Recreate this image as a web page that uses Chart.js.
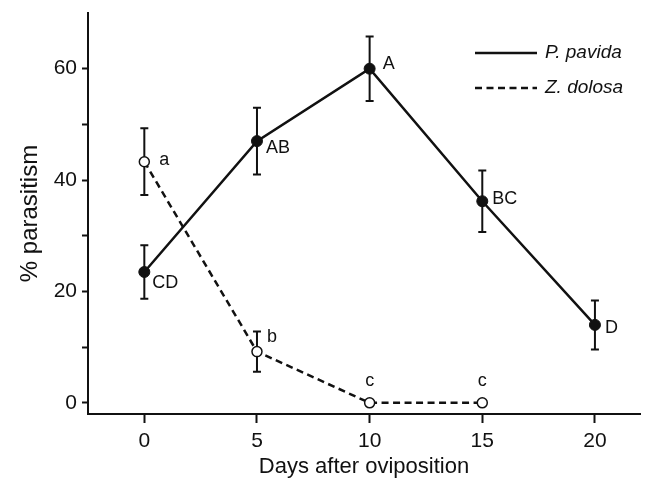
<!DOCTYPE html>
<html>
<head>
<meta charset="utf-8">
<script src="https://cdn.jsdelivr.net/npm/chart.js@4.4.1/dist/chart.umd.min.js"></script>
<style>
  html, body { margin: 0; padding: 0; background: #fff; }
  #wrap { width: 654px; height: 490px; }
</style>
</head>
<body>
<div id="wrap"><canvas id="chart" width="654" height="490"></canvas></div>
<script>
// values
const days = [0, 5, 10, 15, 20];
const pavida = [23.5, 47, 60, 36.2, 14];
const pavidaErr = [4.8, 6, 5.8, 5.5, 4.4];
const pavidaLetters = ['CD', 'AB', 'A', 'BC', 'D'];

const dolosaDays = [0, 5, 10, 15];
const dolosa = [43.3, 9.2, 0, 0];
const dolosaErr = [6, 3.6, 0, 0];
const dolosaLetters = ['a', 'b', 'c', 'c'];

const xTicks = [0, 5, 10, 15, 20];
const yTicks = [0, 10, 20, 30, 40, 50, 60];
const yLabelled = [0, 20, 40, 60];

const FONT = "'Liberation Sans', Arial, Helvetica, sans-serif";

// error bars drawn under the markers
const errorBars = {
  id: 'errorBars',
  beforeDatasetsDraw(chart) {
    const ctx = chart.ctx;
    const xs = chart.scales.x, ys = chart.scales.y;
    ctx.save();
    ctx.strokeStyle = '#111';
    ctx.lineWidth = 2;
    chart.data.datasets.forEach(ds => {
      ds.data.forEach((p, i) => {
        const e = ds.err[i];
        if (!e) return;
        const px = xs.getPixelForValue(p.x);
        const top = ys.getPixelForValue(p.y + e);
        const bot = ys.getPixelForValue(p.y - e);
        ctx.beginPath();
        ctx.moveTo(px, top); ctx.lineTo(px, bot);
        ctx.moveTo(px - 4, top); ctx.lineTo(px + 4, top);
        ctx.moveTo(px - 4, bot); ctx.lineTo(px + 4, bot);
        ctx.stroke();
      });
    });
    ctx.restore();
  }
};

// significance letters next to each point
const letters = {
  id: 'letters',
  afterDatasetsDraw(chart) {
    const ctx = chart.ctx;
    const xs = chart.scales.x, ys = chart.scales.y;
    const offs = [
      [[8, 11, 'left'], [9, 7, 'left'], [13, -5, 'left'], [10, -2, 'left'], [10, 3, 'left']],
      [[15, -2, 'left'], [10, -15, 'left'], [0, -22, 'center'], [0, -22, 'center']]
    ];
    ctx.save();
    ctx.fillStyle = '#111';
    ctx.font = '18px ' + FONT;
    ctx.textBaseline = 'middle';
    chart.data.datasets.forEach((ds, d) => {
      ds.data.forEach((p, i) => {
        const o = offs[d][i];
        ctx.textAlign = o[2];
        ctx.fillText(ds.letters[i], xs.getPixelForValue(p.x) + o[0], ys.getPixelForValue(p.y) + o[1]);
      });
    });
    ctx.restore();
  }
};

// legend inside the plot, top right
const innerLegend = {
  id: 'innerLegend',
  afterDraw(chart) {
    const ctx = chart.ctx;
    const a = chart.chartArea;
    const x0 = a.right - 165, x1 = a.right - 103;
    ctx.save();
    ctx.strokeStyle = '#111';
    ctx.fillStyle = '#111';
    ctx.lineWidth = 2.5;
    ctx.font = 'italic 19px ' + FONT;
    ctx.textBaseline = 'middle';
    chart.data.datasets.forEach((ds, i) => {
      const y = a.top + 40 + i * 35;
      ctx.setLineDash(ds.borderDash || []);
      ctx.beginPath();
      ctx.moveTo(x0, y); ctx.lineTo(x1, y);
      ctx.stroke();
      ctx.setLineDash([]);
      ctx.fillText(ds.label, x1 + 8, y);
    });
    ctx.restore();
  }
};

const toPoints = (xsArr, ysArr) => xsArr.map((x, i) => ({ x: x, y: ysArr[i] }));

new Chart(document.getElementById('chart'), {
  type: 'line',
  data: {
    datasets: [
      {
        label: 'P. pavida',
        data: toPoints(days, pavida),
        err: pavidaErr,
        letters: pavidaLetters,
        borderColor: '#111',
        borderWidth: 2.5,
        pointRadius: 5.5,
        pointBackgroundColor: '#111',
        pointBorderColor: '#111',
        pointBorderWidth: 1,
        tension: 0
      },
      {
        label: 'Z. dolosa',
        data: toPoints(dolosaDays, dolosa),
        err: dolosaErr,
        letters: dolosaLetters,
        borderColor: '#111',
        borderWidth: 2.5,
        borderDash: [7, 4.5],
        pointRadius: 5,
        pointBackgroundColor: '#fff',
        pointBorderColor: '#111',
        pointBorderWidth: 1.5,
        tension: 0
      }
    ]
  },
  options: {
    responsive: false,
    animation: false,
    layout: { padding: { top: 13, right: 14, left: 0, bottom: 0 } },
    plugins: { legend: { display: false }, tooltip: { enabled: false } },
    scales: {
      x: {
        type: 'linear',
        min: -2.5,
        max: 22,
        afterBuildTicks: s => { s.ticks = xTicks.map(v => ({ value: v })); },
        afterFit: s => { s.height = 76; s.paddingLeft = 0; s.paddingRight = 0; },
        border: { color: '#111', width: 2 },
        grid: { drawOnChartArea: false, tickLength: 9, tickWidth: 2, color: '#111' },
        ticks: { color: '#111', font: { family: FONT, size: 21 }, padding: 6, maxRotation: 0 },
        title: {
          display: true,
          text: 'Days after oviposition',
          color: '#111',
          font: { family: FONT, size: 22 },
          padding: { top: 0, bottom: 10 }
        }
      },
      y: {
        min: -2,
        max: 70,
        afterBuildTicks: s => { s.ticks = yTicks.map(v => ({ value: v })); },
        afterFit: s => { s.width = 88; s.paddingTop = 0; s.paddingBottom = 0; },
        border: { color: '#111', width: 2 },
        grid: { drawOnChartArea: false, tickLength: 6, tickWidth: 2, color: '#111' },
        ticks: {
          color: '#111',
          font: { family: FONT, size: 21 },
          padding: 5,
          callback: v => yLabelled.includes(v) ? v : ''
        },
        title: {
          display: true,
          text: '% parasitism',
          color: '#111',
          font: { family: FONT, size: 24 },
          padding: { top: 16, bottom: 0 }
        }
      }
    }
  },
  plugins: [errorBars, letters, innerLegend]
});
</script>
</body>
</html>
